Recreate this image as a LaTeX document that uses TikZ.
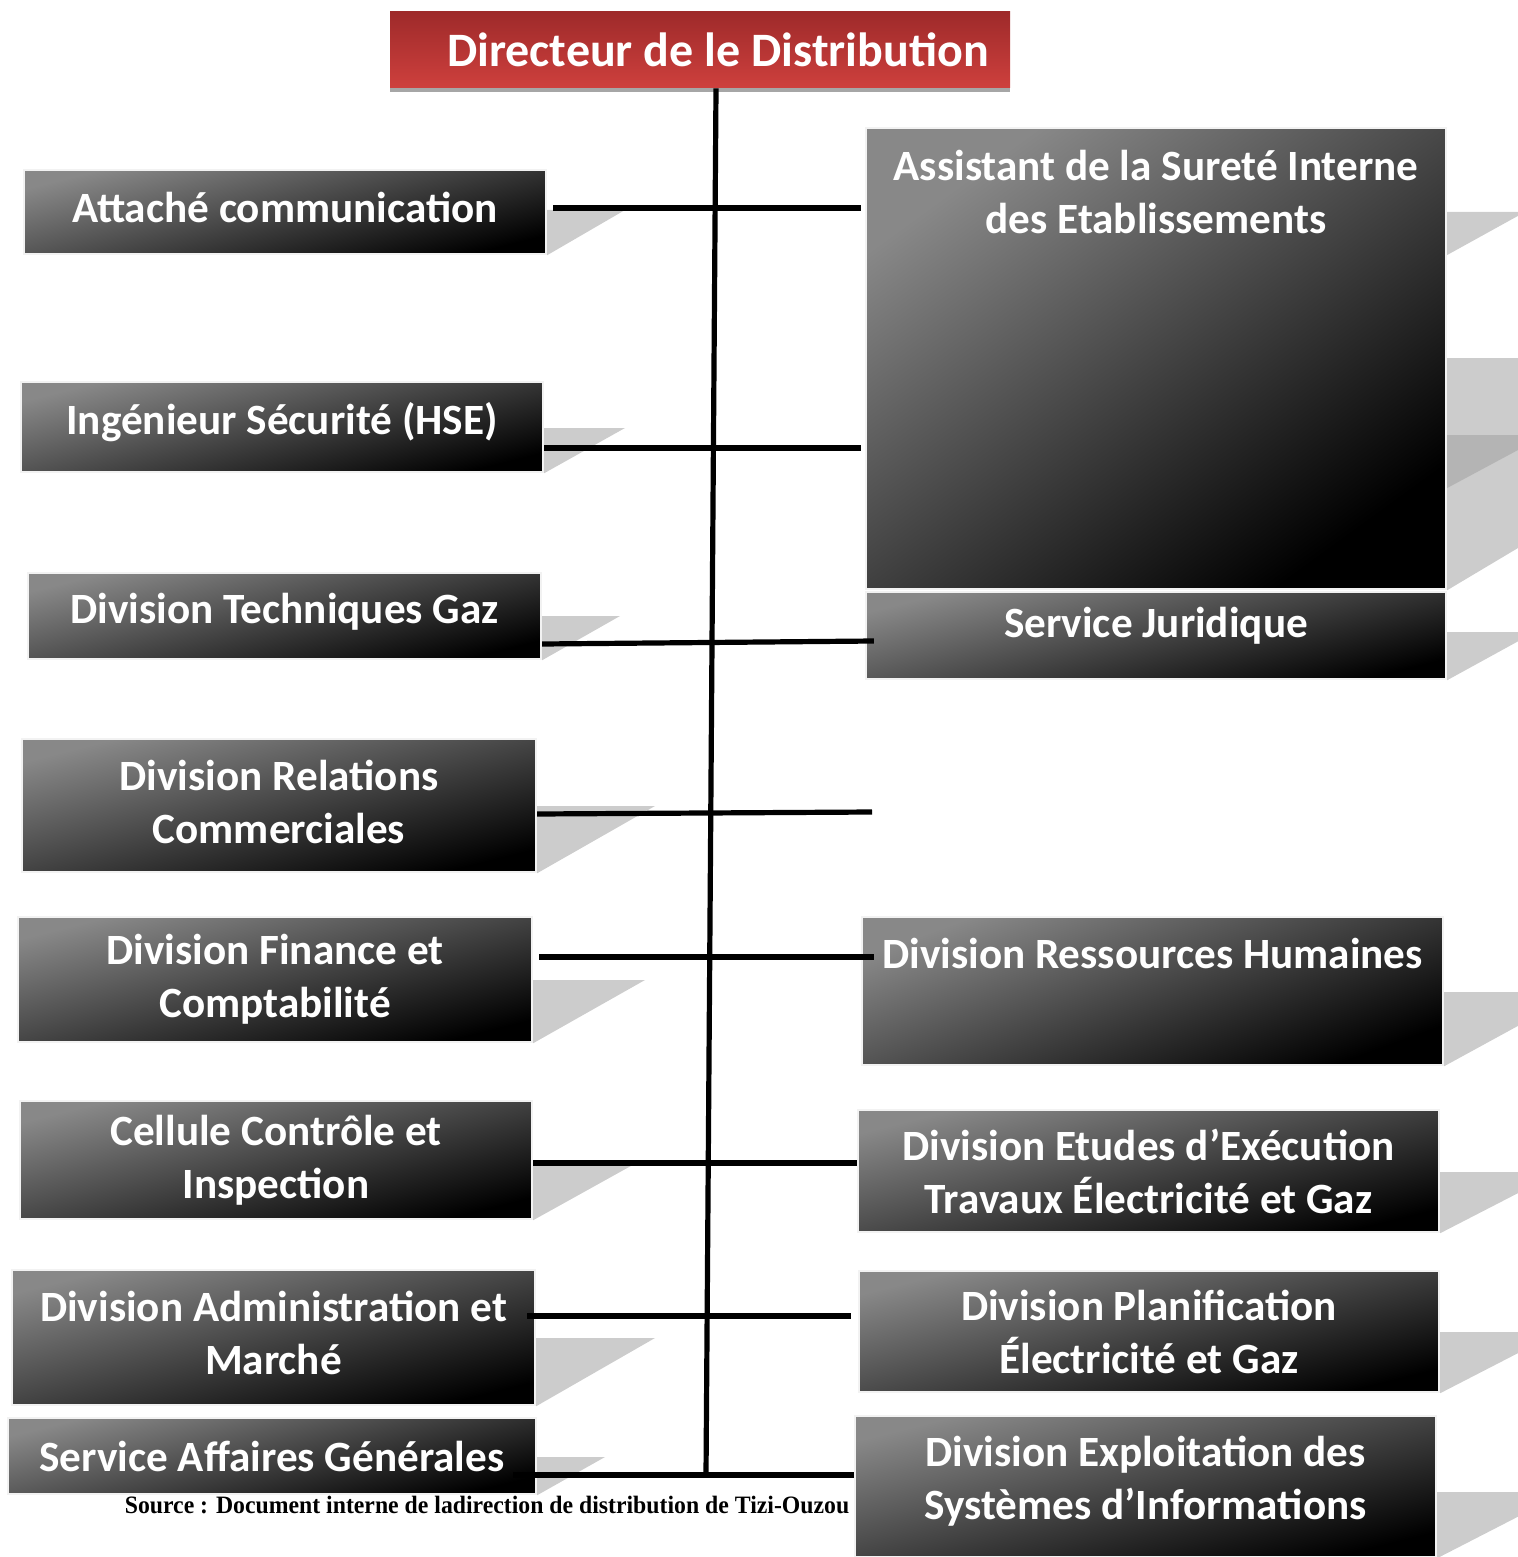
\documentclass[tikz,border=0pt]{standalone}
\usepackage{fontspec}
\setmainfont{Carlito}
\newfontfamily\srcfont{Liberation Serif}[FakeStretch = 0.95]
\definecolor{redtop}{RGB}{158,42,42}
\definecolor{redbot}{RGB}{206,64,61}
\definecolor{boxlight}{RGB}{136,136,136}
\definecolor{boxdark}{RGB}{0,0,0}
\definecolor{shadowgray}{RGB}{204,204,204}
\definecolor{shadowdark}{RGB}{180,180,180}

\begin{document}
\begin{tikzpicture}[x = 0.5pt, y = -0.5pt,
  orgbox/.style = {draw = gray!10, line width = 1.2pt, top color = boxlight, bottom color = boxdark, shading angle = 14, text = white, font = \fontsize{21.6}{26.5}\selectfont\bfseries, align = center, inner sep = 0pt},
  boxtxt/.style = {text = white, font = \fontsize{21.6}{26.5}\selectfont\bfseries, align = center, inner sep = 0pt},
  link/.style = {line width = 2.6pt},
  sdw/.style = {fill = shadowgray}]
\useasboundingbox (0,0) rectangle (1518,1557);

% boxes (left column, then right column)
\node[orgbox, text depth = 5pt, minimum width = 261pt, minimum height = 42pt] (att) at (285,212) {Attaché communication};
\node[orgbox, text depth = 9pt, minimum width = 261pt, minimum height = 45pt] (hse) at (282,427) {Ingénieur Sécurité (HSE)};
\node[orgbox, text depth = 8pt, minimum width = 256.5pt, minimum height = 43pt] (gaz) at (284.5,616) {Division Techniques Gaz};
\node[orgbox, text depth = 4pt, minimum width = 257pt, minimum height = 66.5pt] (com) at (279,805.5) {Division Relations\\Commerciales};
\node[orgbox, minimum width = 257pt, minimum height = 62.5pt] (fin) at (275,979.5) {Division Finance et\\Comptabilité};
\node[orgbox, minimum width = 256pt, minimum height = 59pt] (ctl) at (276,1160) {Cellule Contrôle et\\Inspection};
\node[orgbox, text depth = 5pt, minimum width = 261.5pt, minimum height = 67.5pt] (adm) at (273.5,1337.5) {Division Administration et\\Marché};
\node[orgbox, shading angle = 36, minimum width = 290pt, minimum height = 230.5pt, label = {[boxtxt, anchor = north, yshift = -11.5pt]north:{Assistant de la Sureté Interne\\des Etablissements}}] (asst) at (1156,358.5) {};
\node[orgbox, text depth = 13pt, minimum width = 290pt, minimum height = 43.5pt] (jur) at (1156,635.5) {Service Juridique};
\node[orgbox, shading angle = 20, minimum width = 290.5pt, minimum height = 74pt, label = {[boxtxt, anchor = north, yshift = -11pt]north:{Division Ressources Humaines}}] (rh) at (1152.5,991) {};
\node[orgbox, minimum width = 290.5pt, minimum height = 61pt] (etu) at (1148.5,1171) {Division Etudes d’Exécution\\Travaux Électricité et Gaz};
\node[orgbox, minimum width = 290pt, minimum height = 60.5pt] (pla) at (1149,1331.5) {Division Planification\\Électricité et Gaz};
\node[orgbox, text depth = 9pt, minimum width = 290.5pt, minimum height = 70.5pt] (exp) at (1145.5,1486.5) {Division Exploitation des\\Systèmes d’Informations};

% grey shadows
\fill[sdw] (att.east |- 0,210) -- (625,210) -- (att.south east) -- cycle;
\fill[sdw] (hse.east |- 0,428) -- (625,428) -- (hse.south east) -- cycle;
\fill[sdw] (gaz.east |- 0,616) -- (620,616) -- (gaz.south east) -- cycle;
\fill[sdw] (com.east |- 0,806) -- (655,806) -- (com.south east) -- cycle;
\fill[sdw] (fin.east |- 0,980) -- (645,980) -- (fin.south east) -- cycle;
\fill[sdw] (ctl.east |- 0,1162) -- (638,1162) -- (ctl.south east) -- cycle;
\fill[sdw] (adm.east |- 0,1338) -- (655,1338) -- (adm.south east) -- cycle;
\fill[sdw] (asst.east |- 0,212) -- (1525,212) -- (asst.east |- 0,255) -- cycle;
\fill[sdw] (asst.east |- 0,358) -- (1518,358) -- (1518,548) -- (asst.south east) -- cycle;
\fill[shadowdark] (asst.east |- 0,435) -- (1518,435) -- (1518,450) -- (asst.east |- 0,488) -- cycle;
\fill[sdw] (jur.east |- 0,632) -- (1535,632) -- (jur.south east) -- cycle;
\fill[sdw] (rh.east |- 0,992) -- (1580,992) -- (rh.south east) -- cycle;
\fill[sdw] (etu.east |- 0,1172) -- (1559,1172) -- (etu.south east) -- cycle;
\fill[sdw] (pla.east |- 0,1332) -- (1559,1332) -- (pla.south east) -- cycle;
\fill[sdw] (exp.east |- 0,1492) -- (1566,1492) -- (exp.south east) -- cycle;

% source line, partly under the last box
\node[font = \srcfont\bfseries\fontsize{12.5}{15}\selectfont, anchor = base] (src) at (487,1513) {Source : Document interne de ladirection de distribution de Tizi-Ouzou};
\node[orgbox, minimum width = 264pt, minimum height = 38pt] (sag) at (272,1456) {Service Affaires Générales};
\fill[sdw] (sag.east |- 0,1457) -- (605,1457) -- (sag.south east) -- cycle;

% head of the chart
\node[top color = redtop, bottom color = redbot, text = white, font = \fontsize{24}{29}\selectfont\bfseries, minimum width = 310pt, minimum height = 38pt, inner sep = 0pt] (dir) at (700,50) {\hspace*{18pt}Directeur de le Distribution};
\fill[gray!70] (dir.south west) rectangle ([yshift = -2pt]dir.south east);

% links
\coordinate (foot) at (706,1475);
\coordinate (loose) at (872,812);
\draw[link] ([xshift = 8pt]dir.south) -- (foot);
\draw[link] ([xshift = 3pt]att.east |- 0,208) -- ([xshift = -2pt]asst.west |- 0,208);
\draw[link] (hse.east |- 0,448) -- ([xshift = -2pt]asst.west |- 0,448);
\draw[link] (gaz.east |- 0,644) -- ([xshift = 4.5pt]jur.west |- 0,641);
\draw[link] (com.east |- 0,814) -- (loose);
\draw[link] ([xshift = 3pt]fin.east |- 0,957) -- ([xshift = 6.5pt]rh.west |- 0,957);
\draw[link] (ctl.east |- 0,1163) -- (etu.west |- 0,1163);
\draw[link] ([xshift = -4.5pt]adm.east |- 0,1316) -- ([xshift = -3.5pt]pla.west |- 0,1316);
\draw[link] ([xshift = -12pt]sag.east |- foot) -- (exp.west |- foot);
\end{tikzpicture}
\end{document}
